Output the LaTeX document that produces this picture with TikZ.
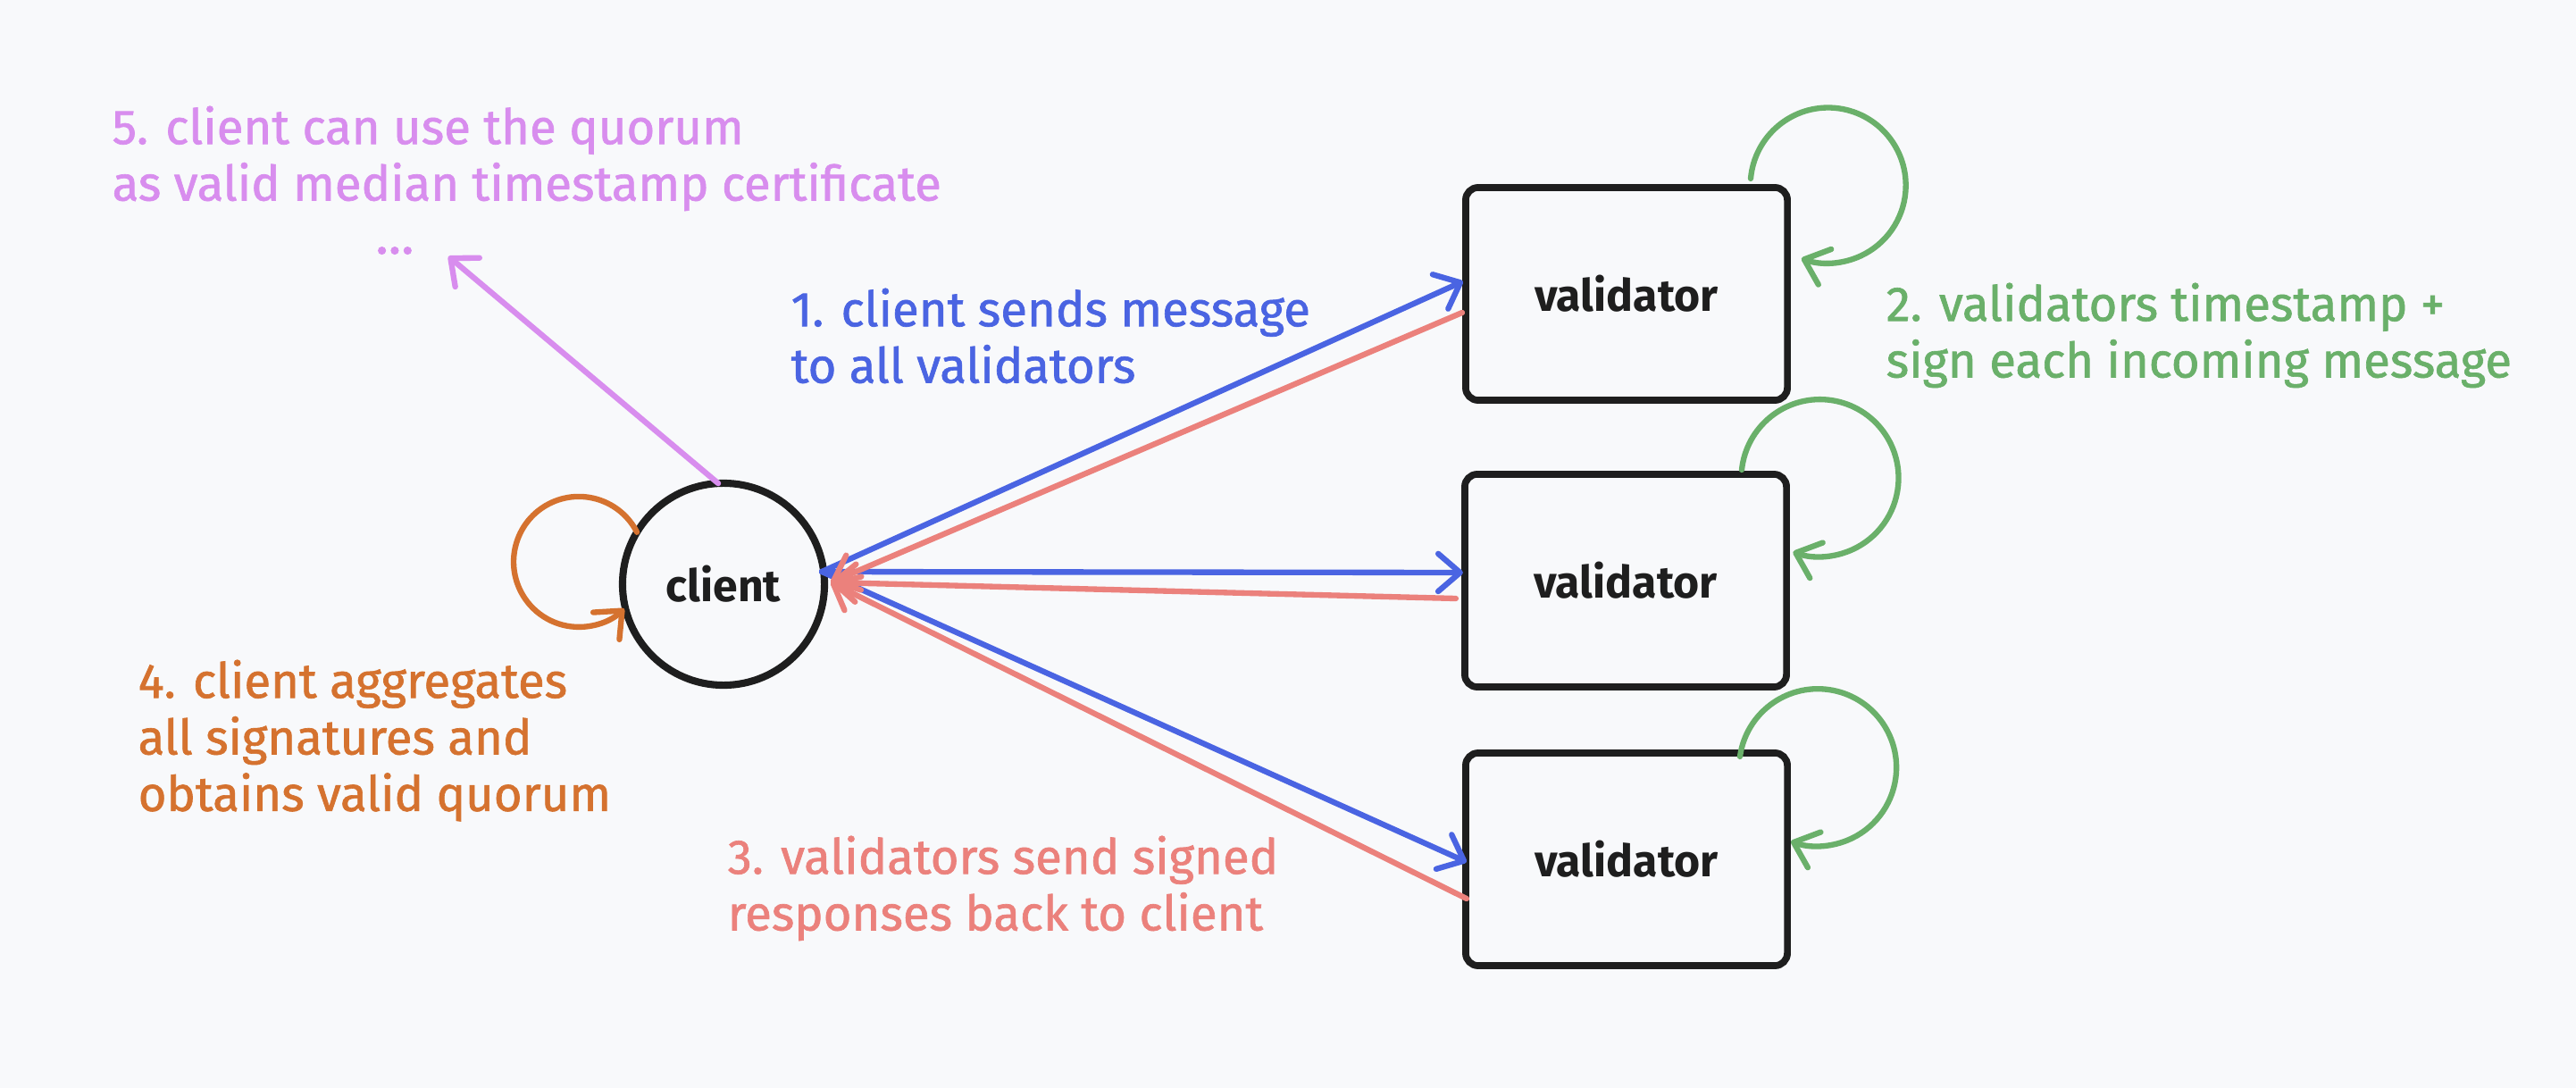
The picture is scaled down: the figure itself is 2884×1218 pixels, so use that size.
\documentclass[tikz,border=0pt]{standalone}
\usepackage{fontspec}
\setmainfont{Fira Sans}
\newfontfamily\labfont{Fira Sans}[FakeBold=1.2]
\usetikzlibrary{arrows.meta,calc}
\definecolor{bg}{HTML}{F8F9FB}
\definecolor{ink}{HTML}{1E1E1E}
\definecolor{cblue}{HTML}{4A64E2}
\definecolor{cred}{HTML}{EB817C}
\definecolor{cgreen}{HTML}{6AB06A}
\definecolor{corange}{HTML}{D5722F}
\definecolor{cpurple}{HTML}{D88DEE}
\begin{document}
\begin{tikzpicture}[x=0.01cm,y=-0.01cm,
  tipend/.style={-{Straight Barb[length=7pt,width=12pt,round]}},
  conn/.style={line width=1.8pt,line cap=round,tipend},
  vbox/.style={draw=ink,line width=2.2pt,rounded corners=4pt,minimum width=3.6cm,minimum height=2.38cm,fill=bg,font=\fontsize{14.2}{17}\selectfont\bfseries,text=ink,outer sep=0pt},
  cnode/.style={circle,draw=ink,line width=2.3pt,minimum size=2.26cm,fill=bg,font=\fontsize{14.2}{17}\selectfont\bfseries,text=ink,outer sep=0pt,inner sep=0pt},
  lab/.style={align=left,anchor=north west,inner sep=0pt,font=\labfont\fontsize{15.5}{18}\selectfont}]
\fill[bg] (0,0) rectangle (2884,1218);
\useasboundingbox (0,0) rectangle (2884,1218);

% nodes
\node[cnode] (client) at (810,654) {client};
\node[vbox] (v1) at (1821,329) {validator};
\node[vbox] (v2) at (1820,650) {validator};
\node[vbox] (v3) at (1821,962) {validator};

% labels
\node[lab,text=cpurple] (l5) at (125,118) {5. client can use the quorum\\as valid median timestamp certificate};
\node[text=cpurple,inner sep=0pt,anchor=base,text height=0.25em,text depth=0pt,font=\labfont\fontsize{17}{18}\selectfont] (dots) at (442,284) {...};
\node[lab,text=cblue] (l1) at (885,322) {1. client sends message\\to all validators};
\node[lab,text=cgreen] (l2) at (2111,316) {2. validators timestamp +\\sign each incoming message};
\node[lab,text=cred] (l3) at (814,935) {3. validators send signed\\responses back to client};
\node[lab,text=corange] (l4) at (154,738) {4. client aggregates\\all signatures and\\obtains valid quorum};

% coordinates
\coordinate (cs) at ($(client.east)+(-3,-14)$);
\coordinate (ct) at ($(client.east)+(7,-2)$);
\coordinate (pend) at (502,287);

% blue: client to validators
\draw[conn,cblue] (cs) -- ($(v1.west)+(-3,-14)$);
\draw[conn,cblue] (cs) -- ($(v2.west)+(-2,-9)$);
\draw[conn,cblue] (cs) -- ($(v3.west)+(1,3)$);

% red: validators to client
\draw[conn,cred] ($(v1.west)+(-4,21)$) -- (ct);
\draw[conn,cred] ($(v2.west)+(-10,20)$) -- (ct);
\draw[conn,cred] ($(v3.west)+(1,44)$) -- (ct);

% purple
\draw[conn,cpurple] (client.93) -- (pend);

% self loops
\draw[conn,corange] (client.149) arc[start angle=-27,end angle=-314,radius=73];
\draw[conn,cgreen] ($(v1.north)+(139,-10)$) arc[start angle=185,end angle=470,radius=87];
\draw[conn,cgreen] ($(v2.north)+(130,-5)$) arc[start angle=186,end angle=470,radius=88];
\draw[conn,cgreen] ($(v3.north)+(127,4)$) arc[start angle=188,end angle=470,radius=88];
\end{tikzpicture}
\end{document}
